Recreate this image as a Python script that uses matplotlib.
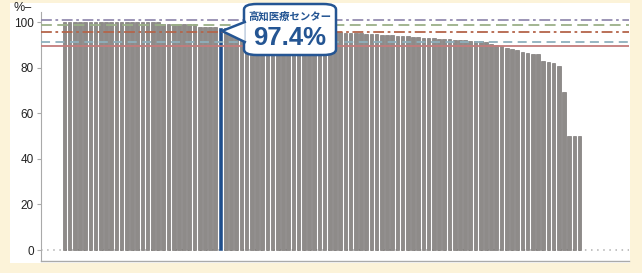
import matplotlib.pyplot as plt
from matplotlib.patches import FancyBboxPatch, Polygon, Rectangle
from matplotlib.lines import Line2D
import numpy as np

# completion rate by hospital, sorted high to low (%)
rates = [100.0] * 19 + [99.0] * 7 + [98.0] * 4 + [97.4] + [
    97.3, 97.2, 97.1, 97.0, 97.0, 96.9, 96.8, 96.7, 96.6, 96.5,
    96.4, 96.3, 96.3, 96.2, 96.1, 96.0, 96.0, 95.9, 95.8, 95.8, 95.7, 95.6, 95.6,
    95.4, 95.3, 95.1, 95.0, 94.9, 94.7, 94.6, 94.5, 94.3, 94.2, 94.0,
    93.9, 93.8, 93.6, 93.4, 93.2,
    92.9, 92.8, 92.6, 92.5, 92.4, 92.2, 92.1, 92.0, 91.8, 91.7, 91.5,
    91.3, 90.5, 89.9, 89.3, 88.7, 88.2, 87.7, 86.8, 86.5, 86.0, 85.8,
    82.9, 82.5, 82.0, 80.7, 69.3, 50.0, 50.0, 50.0]
highlight_idx = 30
highlight_name = "高知医療センター"
highlight_label = "97.4%"

# horizontal reference lines: value, colour, style
ref_values = [100.9, 98.7, 95.8, 91.2, 89.7]
ref_colors = ["#948cb0", "#9bb088", "#b4654a", "#8fb0bd", "#c47c7c"]
ref_styles = [(0, (6, 2, 1.5, 2)), (0, (6, 3)), (0, (6, 2, 1.5, 2)), (0, (5, 3)), "-"]

yticks = [0, 20, 40, 60, 80, 100]

W, H = 642, 273
fig = plt.figure(figsize=(W / 100, H / 100), dpi=100)
fig.patch.set_facecolor("#fcf3d9")
# white panel
fig.patches.append(Rectangle((10 / W, 10 / H), 620 / W, 260 / H, transform=fig.transFigure,
                             facecolor="white", edgecolor="none", zorder=-5))

ax = fig.add_axes([41 / W, 12 / H, 588 / W, 249 / H])
ax.set_facecolor("none")

x = np.arange(len(rates))
colors = ["#8e8b89"] * len(rates)
edges = ["#6a6664"] * len(rates)
colors[highlight_idx] = "#1f4e8c"
edges[highlight_idx] = "#1f4e8c"
ax.bar(x, rates, width=0.7, color=colors, edgecolor=edges, linewidth=0.4, zorder=2)

ax.axhline(0, color="#b0b0b0", linestyle=(0, (1, 3)), linewidth=1.1, zorder=1)
for v, c, s in zip(ref_values, ref_colors, ref_styles):
    ax.axhline(v, color=c, linestyle=s, linewidth=1.3, zorder=3)

ax.set_xlim(-4.5, len(rates) - 0.5 + 9)
ax.set_ylim(-4.8, 104.4)
ax.set_xticks([])
ax.set_yticks(yticks)
ax.tick_params(axis="y", length=3, color="#aaaaaa", labelsize=8.5, labelcolor="#222222", pad=2)
for lab in ax.get_yticklabels():
    lab.set_fontfamily("Liberation Sans")
for s in ["top", "right"]:
    ax.spines[s].set_visible(False)
ax.spines["left"].set_color("#aaaaaa")
ax.spines["bottom"].set_color("#aaaaaa")
ax.spines["left"].set_linewidth(0.8)
ax.spines["bottom"].set_linewidth(1.0)

fig.text(13 / W, 1 - 8 / H, "%–", fontsize=9, family="Liberation Sans", color="#222222",
         ha="left", va="center")


def fp(px, py):
    return (px / W, 1 - py / H)


blue = "#245593"
box = FancyBboxPatch(fp(244, 55), 92 / W, 51 / H, boxstyle="round,pad=0,rounding_size=0.02",
                     transform=fig.transFigure, facecolor="white", edgecolor=blue,
                     linewidth=1.8, zorder=10)
fig.patches.append(box)
tip = [fp(244.8, 22), fp(222, 31), fp(244.8, 42)]
fig.patches.append(Polygon(tip, closed=True, transform=fig.transFigure,
                           facecolor="white", edgecolor="none", zorder=11))
fig.lines.append(Line2D([p[0] for p in tip], [p[1] for p in tip], transform=fig.transFigure,
                        color=blue, linewidth=1.8, solid_joinstyle="miter", zorder=12))
fig.text(290 / W, 1 - 17 / H, highlight_name, fontsize=7.5, family=["Noto Sans CJK JP"],
         fontweight="bold", color=blue, ha="center", va="center", zorder=13)
fig.text(290 / W, 1 - 38 / H, highlight_label, fontsize=18.5, family="Liberation Sans",
         fontweight="bold", color=blue, ha="center", va="center", zorder=13)

fig.savefig("out.png", dpi=100, facecolor=fig.get_facecolor())
